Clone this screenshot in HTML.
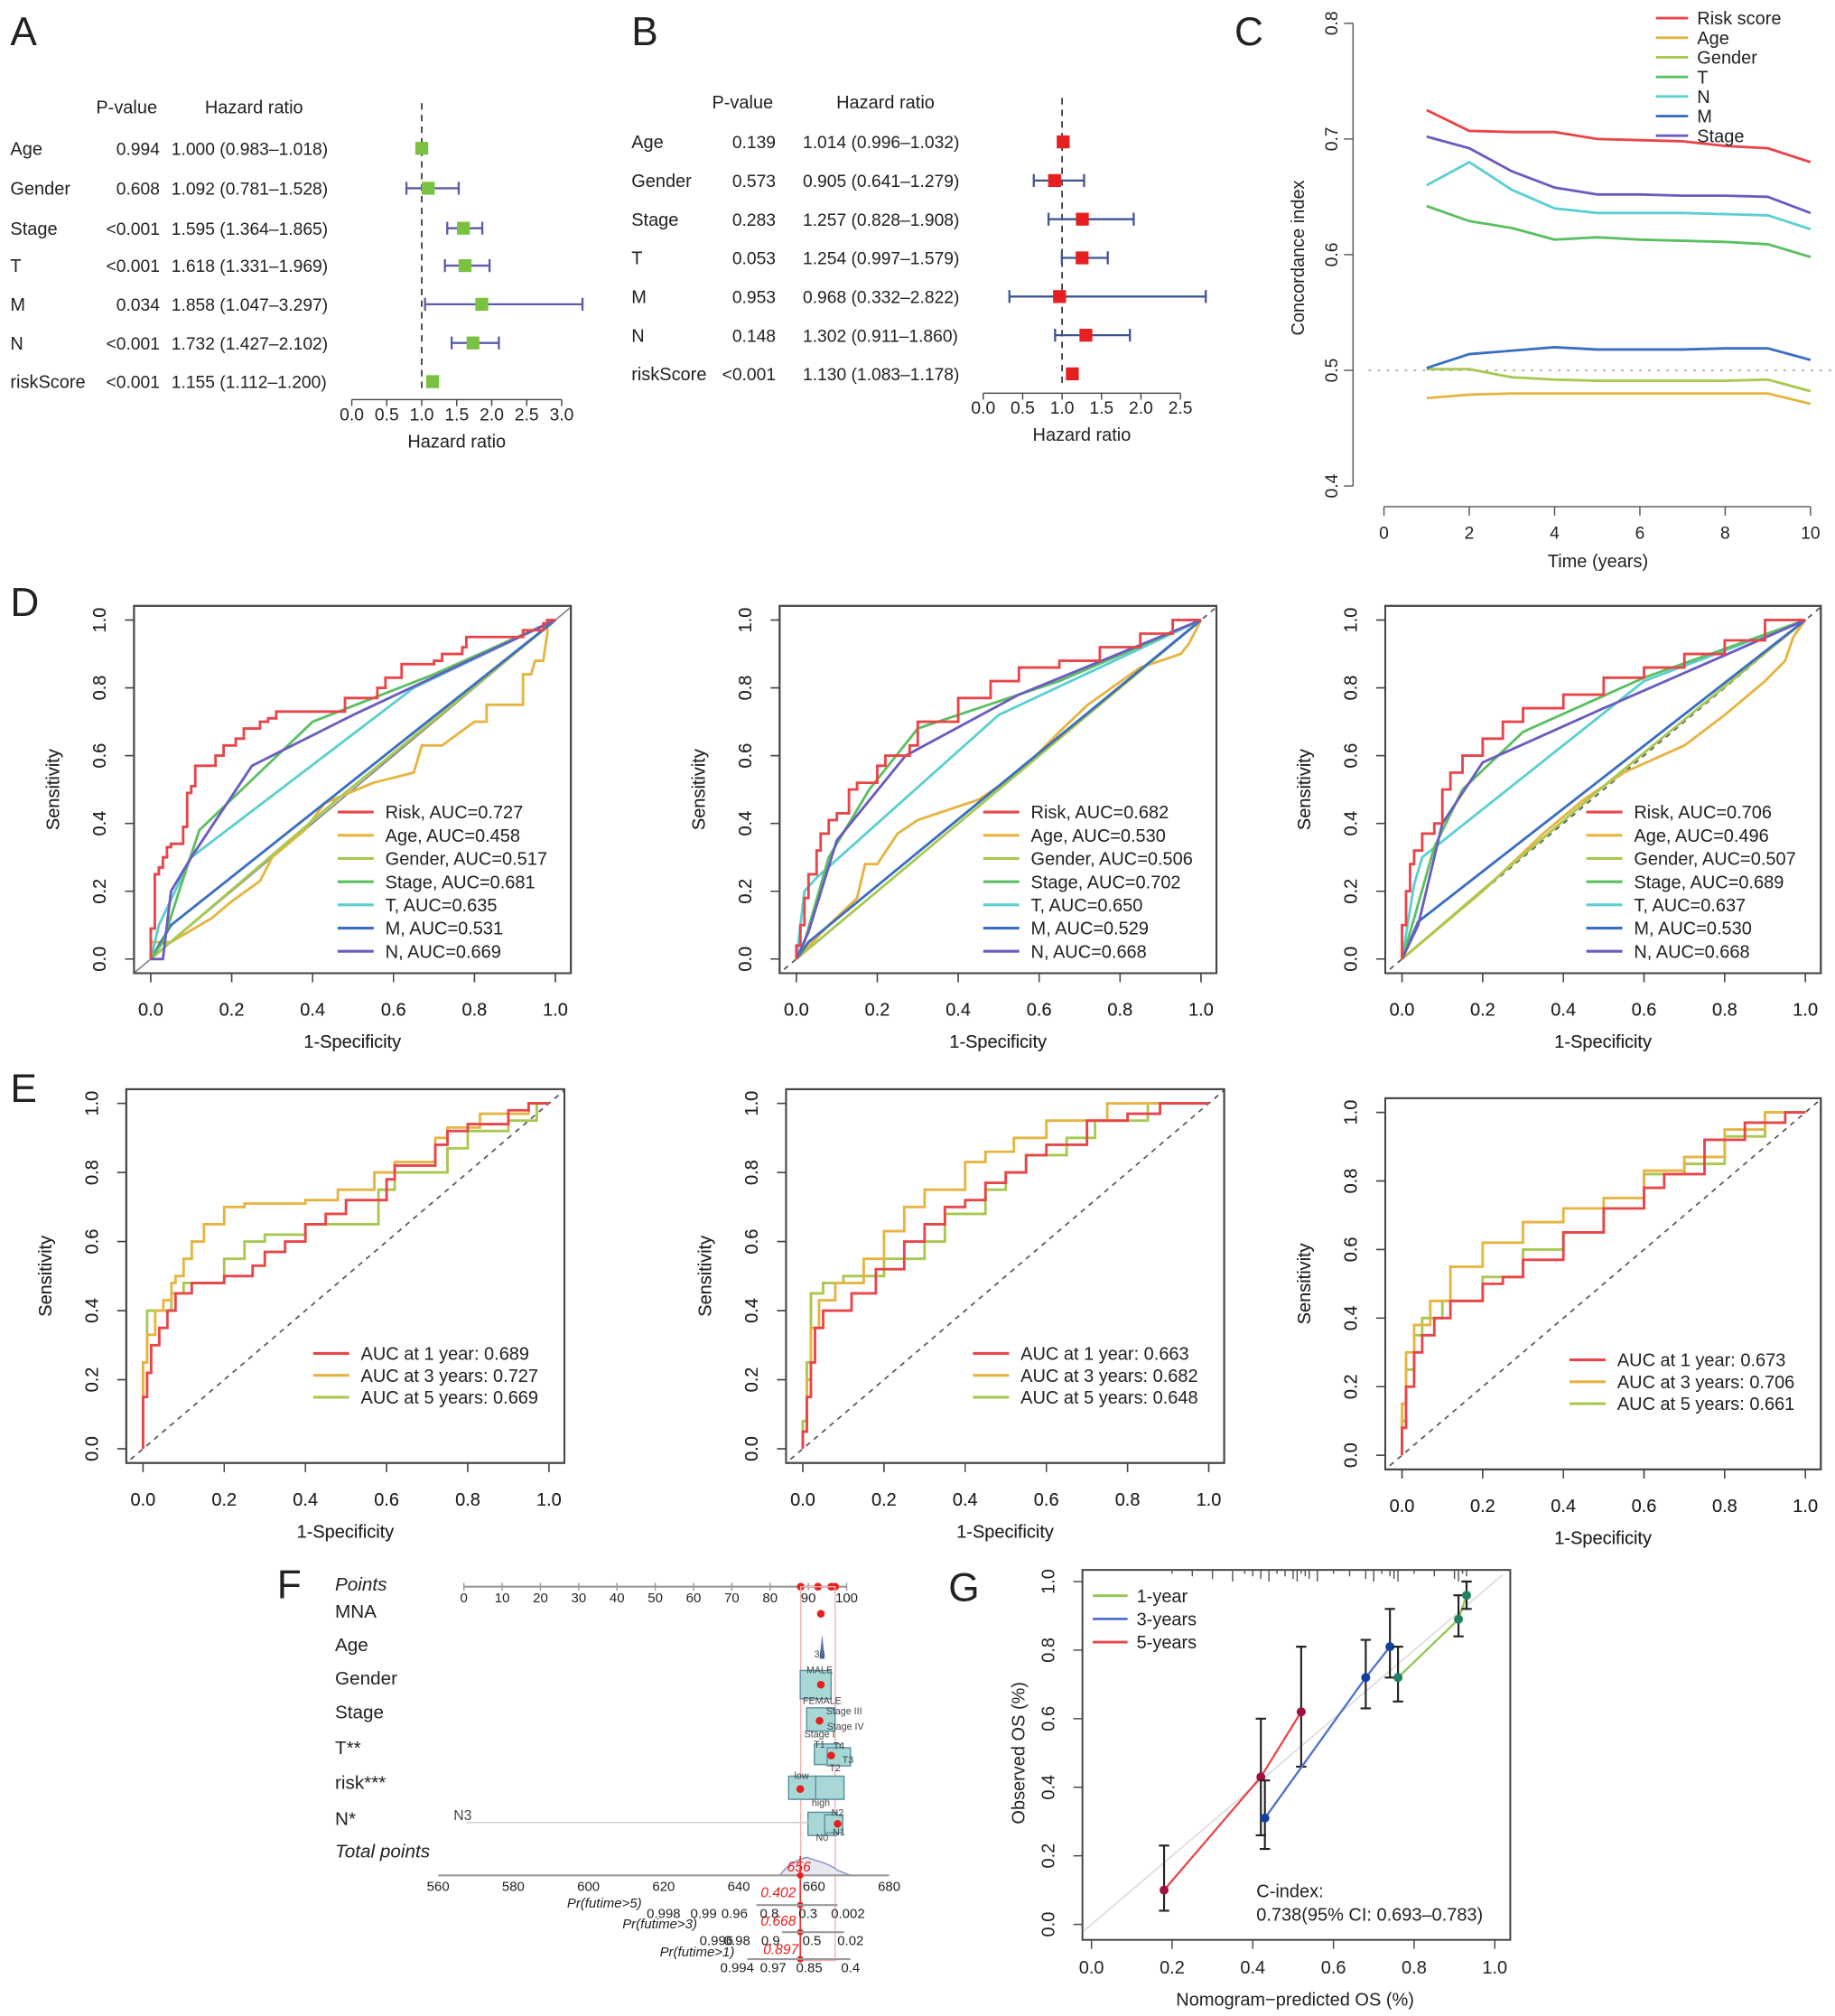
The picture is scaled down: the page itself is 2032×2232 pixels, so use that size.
<!DOCTYPE html>
<html><head><meta charset="utf-8"><style>
html,body{margin:0;padding:0;background:#fff;}
svg{display:block;font-family:"Liberation Sans",Arial,sans-serif;}
</style></head><body>
<svg id="fig" width="2032" height="2232" viewBox="0 0 1424 1564" xmlns="http://www.w3.org/2000/svg"></svg>
<script>
// ---------- Panel A/B forest data ----------
const forestVars = ["Age","Gender","Stage","T","M","N","riskScore"];
const aPvals = ["0.994","0.608","<0.001","<0.001","0.034","<0.001","<0.001"];
const aHR = [1.000,1.092,1.595,1.618,1.858,1.732,1.155];
const aLo = [0.983,0.781,1.364,1.331,1.047,1.427,1.112];
const aHi = [1.018,1.528,1.865,1.969,3.297,2.102,1.200];
const aTicks = [0,0.5,1,1.5,2,2.5,3];
const bPvals = ["0.139","0.573","0.283","0.053","0.953","0.148","<0.001"];
const bHR = [1.014,0.905,1.257,1.254,0.968,1.302,1.130];
const bLo = [0.996,0.641,0.828,0.997,0.332,0.911,1.083];
const bHi = [1.032,1.279,1.908,1.579,2.822,1.860,1.178];
const bTicks = [0,0.5,1,1.5,2,2.5];
// ---------- Panel C ----------
const cYears = [1,2,3,4,5,6,7,8,9,10];
const cNames = ["Risk score","Age","Gender","T","N","M","Stage"];
const cRisk  = [.725,.707,.706,.706,.700,.699,.698,.694,.692,.680];
const cAge   = [.476,.479,.480,.480,.480,.480,.480,.480,.480,.471];
const cGender= [.501,.501,.494,.492,.491,.491,.491,.491,.492,.482];
const cT     = [.642,.629,.623,.613,.615,.613,.612,.611,.609,.598];
const cN     = [.660,.680,.656,.640,.636,.636,.636,.635,.634,.622];
const cM     = [.502,.514,.517,.520,.518,.518,.518,.519,.519,.509];
const cStage = [.702,.692,.672,.658,.652,.652,.651,.651,.650,.636];
const cXTicks = [0,2,4,6,8,10];
const cYTicks = [0.4,0.5,0.6,0.7,0.8];
// ---------- Panel D ROC ----------
const dLabels1 = ["Risk, AUC=0.727","Age, AUC=0.458","Gender, AUC=0.517","Stage, AUC=0.681","T, AUC=0.635","M, AUC=0.531","N, AUC=0.669"];
const dLabels2 = ["Risk, AUC=0.682","Age, AUC=0.530","Gender, AUC=0.506","Stage, AUC=0.702","T, AUC=0.650","M, AUC=0.529","N, AUC=0.668"];
const dLabels3 = ["Risk, AUC=0.706","Age, AUC=0.496","Gender, AUC=0.507","Stage, AUC=0.689","T, AUC=0.637","M, AUC=0.530","N, AUC=0.668"];
const d1Risk=[[0,0],[0.01,0.09],[0.02,0.25],[0.03,0.27],[0.04,0.3],[0.05,0.33],[0.08,0.34],[0.09,0.39],[0.1,0.49],[0.11,0.51],[0.16,0.57],[0.18,0.6],[0.21,0.63],[0.23,0.65],[0.27,0.68],[0.29,0.7],[0.31,0.71],[0.48,0.73],[0.56,0.77],[0.58,0.8],[0.62,0.83],[0.7,0.87],[0.72,0.88],[0.77,0.9],[0.78,0.92],[0.92,0.95],[0.97,0.97],[0.98,0.99],[1,1]];
const d1Age=[[0,0],[0,0.05],[0.05,0.05],[0.15,0.12],[0.2,0.17],[0.27,0.23],[0.3,0.3],[0.38,0.38],[0.43,0.46],[0.55,0.52],[0.65,0.55],[0.67,0.63],[0.72,0.63],[0.8,0.7],[0.83,0.7],[0.83,0.75],[0.92,0.75],[0.92,0.84],[0.94,0.84],[0.95,0.88],[0.97,0.88],[0.98,0.96],[0.98,1],[1,1]];
const d1Gender=[[0,0],[0.47,0.48],[1,1]];
const d1Stage=[[0,0],[0.03,0.05],[0.07,0.2],[0.12,0.38],[0.4,0.7],[0.7,0.84],[1,1]];
const d1T=[[0,0],[0.02,0.1],[0.1,0.3],[0.65,0.8],[1,1]];
const d1M=[[0,0],[0.05,0.1],[1,1]];
const d1N=[[0,0],[0.03,0],[0.05,0.2],[0.1,0.3],[0.25,0.57],[0.5,0.72],[1,1]];
const d2Risk=[[0,0],[0.01,0.04],[0.02,0.1],[0.03,0.18],[0.05,0.25],[0.06,0.32],[0.08,0.37],[0.1,0.41],[0.13,0.43],[0.15,0.5],[0.2,0.52],[0.22,0.57],[0.28,0.6],[0.3,0.63],[0.4,0.7],[0.48,0.77],[0.55,0.82],[0.65,0.86],[0.75,0.88],[0.85,0.92],[0.93,0.96],[1,1]];
const d2Age=[[0,0],[0.08,0.1],[0.15,0.18],[0.17,0.28],[0.2,0.28],[0.25,0.37],[0.3,0.41],[0.4,0.45],[0.45,0.47],[0.55,0.55],[0.65,0.67],[0.72,0.75],[0.85,0.86],[0.95,0.9],[0.97,0.93],[1,1]];
const d2Gender=[[0,0],[0.5,0.5],[1,1]];
const d2Stage=[[0,0],[0.02,0.05],[0.08,0.3],[0.18,0.5],[0.3,0.68],[0.65,0.82],[1,1]];
const d2T=[[0,0],[0.02,0.2],[0.05,0.24],[0.5,0.72],[1,1]];
const d2M=[[0,0],[0.03,0.05],[1,1]];
const d2N=[[0,0],[0.03,0.08],[0.1,0.35],[0.27,0.6],[0.55,0.78],[1,1]];
const d3Risk=[[0,0],[0.01,0.1],[0.02,0.2],[0.03,0.28],[0.05,0.32],[0.08,0.37],[0.1,0.4],[0.12,0.5],[0.15,0.55],[0.2,0.6],[0.25,0.65],[0.3,0.7],[0.4,0.74],[0.5,0.78],[0.6,0.83],[0.7,0.86],[0.8,0.9],[0.9,0.94],[1,1]];
const d3Age=[[0,0],[0.05,0.05],[0.2,0.2],[0.35,0.37],[0.45,0.47],[0.55,0.55],[0.7,0.63],[0.8,0.72],[0.9,0.82],[0.95,0.88],[0.97,0.95],[1,1]];
const d3Gender=[[0,0],[0.5,0.51],[1,1]];
const d3Stage=[[0,0],[0.03,0.12],[0.08,0.33],[0.15,0.5],[0.3,0.67],[0.6,0.83],[1,1]];
const d3T=[[0,0],[0.03,0.22],[0.05,0.3],[0.6,0.82],[1,1]];
const d3M=[[0,0],[0.04,0.11],[1,1]];
const d3N=[[0,0],[0.04,0.1],[0.1,0.4],[0.2,0.58],[0.5,0.74],[1,1]];
// ---------- Panel E ROC ----------
const eLabels1=["AUC at 1 year: 0.689","AUC at 3 years: 0.727","AUC at 5 years: 0.669"];
const eLabels2=["AUC at 1 year: 0.663","AUC at 3 years: 0.682","AUC at 5 years: 0.648"];
const eLabels3=["AUC at 1 year: 0.673","AUC at 3 years: 0.706","AUC at 5 years: 0.661"];
const e1Y1=[[0,0],[0,0.1],[0.01,0.15],[0.02,0.22],[0.04,0.3],[0.06,0.35],[0.08,0.4],[0.12,0.45],[0.2,0.48],[0.27,0.5],[0.3,0.53],[0.35,0.57],[0.4,0.6],[0.45,0.65],[0.5,0.68],[0.6,0.72],[0.62,0.78],[0.72,0.82],[0.75,0.88],[0.8,0.92],[0.9,0.94],[0.95,0.98],[1,1]];
const e1Y3=[[0,0],[0,0.12],[0.01,0.25],[0.03,0.33],[0.05,0.4],[0.07,0.43],[0.08,0.48],[0.1,0.5],[0.12,0.55],[0.15,0.6],[0.2,0.65],[0.25,0.7],[0.4,0.71],[0.48,0.72],[0.57,0.75],[0.62,0.8],[0.72,0.83],[0.75,0.9],[0.83,0.93],[0.95,0.97],[1,1]];
const e1Y5=[[0,0],[0,0.05],[0.01,0.25],[0.02,0.4],[0.07,0.4],[0.1,0.45],[0.2,0.48],[0.25,0.55],[0.3,0.6],[0.4,0.62],[0.45,0.65],[0.58,0.65],[0.62,0.75],[0.75,0.8],[0.8,0.87],[0.9,0.92],[0.97,0.95],[1,1]];
const e2Y1=[[0,0],[0.01,0.05],[0.02,0.15],[0.03,0.25],[0.05,0.35],[0.08,0.4],[0.12,0.4],[0.18,0.45],[0.25,0.52],[0.3,0.6],[0.35,0.65],[0.4,0.7],[0.45,0.72],[0.5,0.77],[0.55,0.8],[0.6,0.85],[0.7,0.88],[0.8,0.95],[0.88,0.97],[1,1]];
const e2Y3=[[0,0],[0.01,0.05],[0.02,0.2],[0.04,0.35],[0.08,0.43],[0.15,0.48],[0.2,0.55],[0.25,0.63],[0.3,0.7],[0.4,0.75],[0.45,0.83],[0.52,0.86],[0.6,0.9],[0.75,0.95],[0.85,1],[1,1]];
const e2Y5=[[0,0],[0.01,0.08],[0.02,0.25],[0.03,0.45],[0.05,0.45],[0.1,0.48],[0.2,0.5],[0.3,0.55],[0.35,0.6],[0.45,0.68],[0.5,0.75],[0.55,0.8],[0.65,0.85],[0.72,0.9],[0.85,0.95],[0.95,1],[1,1]];
const e3Y1=[[0,0],[0.01,0.08],[0.03,0.2],[0.05,0.3],[0.08,0.35],[0.12,0.4],[0.2,0.45],[0.25,0.5],[0.3,0.52],[0.4,0.57],[0.5,0.65],[0.6,0.72],[0.65,0.78],[0.75,0.82],[0.85,0.92],[0.95,0.97],[1,1]];
const e3Y3=[[0,0],[0.01,0.15],[0.03,0.3],[0.07,0.38],[0.12,0.45],[0.2,0.55],[0.3,0.62],[0.4,0.68],[0.5,0.72],[0.6,0.75],[0.7,0.83],[0.8,0.87],[0.9,0.95],[1,1]];
const e3Y5=[[0,0],[0.01,0.1],[0.03,0.25],[0.05,0.35],[0.1,0.4],[0.2,0.45],[0.3,0.52],[0.4,0.6],[0.5,0.65],[0.6,0.72],[0.7,0.82],[0.8,0.85],[0.9,0.93],[1,1]];
const rocTicks=[0,0.2,0.4,0.6,0.8,1.0];
// ---------- Panel G calibration ----------
const gPred5=[0.18,0.42,0.52], gObs5=[0.10,0.43,0.62], gLo5=[0.04,0.26,0.46], gHi5=[0.23,0.60,0.81];
const gPred3=[0.43,0.68,0.74], gObs3=[0.31,0.72,0.81], gLo3=[0.22,0.63,0.72], gHi3=[0.42,0.83,0.92];
const gPred1=[0.76,0.91,0.93], gObs1=[0.72,0.89,0.96], gLo1=[0.65,0.84,0.92], gHi1=[0.81,0.96,1.0];

const NS="http://www.w3.org/2000/svg";
const svg=document.getElementById('fig');
function mk(tag,attrs,parent){const e=document.createElementNS(NS,tag);for(const k in attrs)e.setAttribute(k,attrs[k]);(parent||svg).appendChild(e);return e;}
function txt(x,y,s,size,anchor,parent,extra){const e=mk('text',Object.assign({x:x,y:y,'font-size':size,'text-anchor':anchor||'start',fill:'#222'},extra||{}),parent);e.textContent=s;return e;}
const COL={red:'#e8454a',gold:'#e6b440',ygreen:'#a8c850',green:'#5bbf62',cyan:'#5ccfd0',blue:'#3a6ec0',purple:'#6a5cc0'};

[["A",8,35],["B",490,35],["C",958,35],["D",8,478],["E",8,855],["F",215,1240],["G",736,1242]].forEach(function(l){
  const t=txt(l[1],l[2],l[0],31,'start');
  
  
});

function forest(id,rowY,labX,pX,hrX,hdrY,ax0,axPerUnit,axY,pv,hr,lo,hi,ticks,boxCol,barCol){
  const g=mk('g',{});
  
  
  const sx=v=>ax0+v*axPerUnit;
  let h=txt(pX-2,hdrY,'P-value',14,'end',g);  
  h=txt(hrX+26,hdrY,'Hazard ratio',14,'start',g);  
  const dl=mk('line',{x1:sx(1),x2:sx(1),y1:hdrY-8,y2:axY-6,stroke:'#333','stroke-dasharray':'5,4','stroke-width':1.2},g);
   
  forestVars.forEach(function(v,i){
    const y=rowY[i];
    let t=txt(labX,y+5,v,14,'start',g);  
    t=txt(pX,y+5,pv[i],13.5,'end',g);  
    t=txt(hrX,y+5,hr[i].toFixed(3)+' ('+lo[i].toFixed(3)+'\u2013'+hi[i].toFixed(3)+')',13.5,'start',g);  
    const ln=mk('line',{x1:sx(lo[i]),x2:sx(hi[i]),y1:y,y2:y,stroke:barCol,'stroke-width':1.6},g);
     
    [lo[i],hi[i]].forEach(function(e){const c=mk('line',{x1:sx(e),x2:sx(e),y1:y-5,y2:y+5,stroke:barCol,'stroke-width':1.6},g);
       });
    const r=mk('rect',{x:sx(hr[i])-5,y:y-5,width:10,height:10,fill:boxCol},g);
     
  });
  const ax=mk('line',{x1:sx(ticks[0]),x2:sx(ticks[ticks.length-1]),y1:axY,y2:axY,stroke:'#444','stroke-width':1},g);
   
  ticks.forEach(function(tv){mk('line',{x1:sx(tv),x2:sx(tv),y1:axY,y2:axY+5,stroke:'#444'},g);
    const t=txt(sx(tv),axY+16,tv.toFixed(1),13.5,'middle',g);  });
  const xt=txt((sx(ticks[0])+sx(ticks[ticks.length-1]))/2,axY+37,'Hazard ratio',14,'middle',g);
   
}
forest('a',[115,146,177,206,236,266,296],8,124,133,88,273,54.3,310,aPvals,aHR,aLo,aHi,aTicks,'#7ac142','#5a5aa8');
forest('b',[110,140,170,200,230,260,290],490,602,623,84,763,61.2,305,bPvals,bHR,bLo,bHi,bTicks,'#e62020','#3e5490');

(function(){
  const g=mk('g',{});  
  const sx=v=>1074+v*33.1, sy=v=>377-(v-0.4)*897.5;
  let a=mk('line',{x1:sx(0),x2:sx(10),y1:393,y2:393,stroke:'#555'},g);  
  cXTicks.forEach(function(v){mk('line',{x1:sx(v),x2:sx(v),y1:393,y2:400,stroke:'#555'},g);
    const t=txt(sx(v),418,String(v),13.5,'middle',g);  });
  a=mk('line',{x1:1050,x2:1050,y1:sy(0.4),y2:sy(0.8),stroke:'#555'},g);  
  cYTicks.forEach(function(v){mk('line',{x1:1043,x2:1050,y1:sy(v),y2:sy(v),stroke:'#555'},g);
    const t=txt(0,0,v.toFixed(1),13.5,'middle',g,{transform:'translate(1038,'+sy(v)+') rotate(-90)'});  });
  let t=txt(1240,440,'Time (years)',14,'middle',g);  
  t=txt(0,0,'Concordance index',14,'middle',g,{transform:'translate(1012,200) rotate(-90)'});  
  const ref=mk('line',{x1:1062,x2:1424,y1:sy(0.5),y2:sy(0.5),stroke:'#aaa','stroke-dasharray':'2,5','stroke-width':1.3},g);
   
  const series=[cRisk,cAge,cGender,cT,cN,cM,cStage];
  const cols=[COL.red,COL.gold,COL.ygreen,COL.green,COL.cyan,COL.blue,COL.purple];
  series.forEach(function(s,i){
    const p=mk('polyline',{points:s.map((v,j)=>sx(cYears[j])+','+sy(v)).join(' '),fill:'none',stroke:cols[i],'stroke-width':2},g);
     
    const ly=14+i*15.2;
    const l=mk('line',{x1:1285,x2:1310,y1:ly,y2:ly,stroke:cols[i],'stroke-width':2},g);
     
    const lt=txt(1317,ly+5,cNames[i],14,'start',g);  
  });
})();

function roc(id,L,T,R,B,series,cols,steps,labels,leg,dashed){
  const g=mk('g',{});  
  const sx=v=>L+13+v*(R-L-25), sy=v=>B-11-v*(B-T-22);
  const box=mk('rect',{x:L,y:T,width:R-L,height:B-T,fill:'none',stroke:'#444','stroke-width':1.4},g);
   
  rocTicks.forEach(function(v){
    mk('line',{x1:sx(v),x2:sx(v),y1:B,y2:B+7,stroke:'#444'},g);
    let t=txt(sx(v),B+33,v.toFixed(1),14,'middle',g);  
    mk('line',{x1:L-7,x2:L,y1:sy(v),y2:sy(v),stroke:'#444'},g);
    t=txt(0,0,v.toFixed(1),14,'middle',g,{transform:'translate('+(L-22)+','+sy(v)+') rotate(-90)'});  
  });
  let t=txt((L+R)/2,B+58,'1-Specificity',14,'middle',g);  
  t=txt(0,0,'Sensitivity',14,'middle',g,{transform:'translate('+(L-58)+','+((T+B)/2)+') rotate(-90)'});  
  if(series.length){
    const cp=mk('clipPath',{id:'clip'+id},g); mk('rect',{x:L,y:T,width:R-L,height:B-T},cp);
    const dg=mk('line',{x1:sx(-0.05),y1:sy(-0.05),x2:sx(1.05),y2:sy(1.05),stroke:dashed?'#555':'#888','stroke-dasharray':dashed?'4,4':'none','stroke-width':1.2,'clip-path':'url(#clip'+id+')'},g);
     
  }
  series.forEach(function(s,i){
    let d='M'+sx(s[0][0])+','+sy(s[0][1]);
    for(let k=1;k<s.length;k++){
      if(steps[i]) d+=' L'+sx(s[k-1][0])+','+sy(s[k][1]);
      d+=' L'+sx(s[k][0])+','+sy(s[k][1]);
    }
    const p=mk('path',{d:d,fill:'none',stroke:cols[i],'stroke-width':2},g);
     
  });
  labels.forEach(function(s,i){
    const y=leg[1]+i*leg[2];
    const l=mk('line',{x1:leg[0],x2:leg[0]+28,y1:y,y2:y,stroke:cols[i],'stroke-width':2.2},g);
     
    const lt=txt(leg[0]+37,y+5,s,14,'start',g);  
  });
}
const dCols=[COL.red,COL.gold,COL.ygreen,COL.green,COL.cyan,COL.blue,COL.purple];
const dSeriesCols=[COL.gold,COL.ygreen,COL.blue,COL.cyan,COL.green,COL.purple,COL.red];
const dStepFlags=[false,false,false,false,false,false,true];
roc('d1',104,470,443,755,[d1Age,d1Gender,d1M,d1T,d1Stage,d1N,d1Risk],dSeriesCols,dStepFlags,dLabels1.map(()=>null).filter(x=>x),[0,0,0],false);
roc('d1l',104,470,443,755,[],dCols,[],dLabels1,[262,630,18],false);
roc('d2',605,470,944,755,[d2Age,d2Gender,d2M,d2T,d2Stage,d2N,d2Risk],dSeriesCols,dStepFlags,[],[0,0,0],true);
roc('d2l',605,470,944,755,[],dCols,[],dLabels2,[763,630,18],false);
roc('d3',1075,470,1413,755,[d3Age,d3Gender,d3M,d3T,d3Stage,d3N,d3Risk],dSeriesCols,dStepFlags,[],[0,0,0],true);
roc('d3l',1075,470,1413,755,[],dCols,[],dLabels3,[1231,630,18],false);
const eCols=[COL.red,COL.gold,COL.ygreen];
roc('e1',98,845,438,1135,[e1Y5,e1Y3,e1Y1],[COL.ygreen,COL.gold,COL.red],[true,true,true],[],[0,0,0],true);
roc('e1l',98,845,438,1135,[],eCols,[],eLabels1,[243,1050,17],false);
roc('e2',610,845,950,1135,[e2Y5,e2Y3,e2Y1],[COL.ygreen,COL.gold,COL.red],[true,true,true],[],[0,0,0],true);
roc('e2l',610,845,950,1135,[],eCols,[],eLabels2,[755,1050,17],false);
roc('e3',1075,852,1413,1140,[e3Y5,e3Y3,e3Y1],[COL.ygreen,COL.gold,COL.red],[true,true,true],[],[0,0,0],true);
roc('e3l',1075,852,1413,1140,[],eCols,[],eLabels3,[1218,1055,17],false);

(function(){
  const g=mk('g',{});  
  const pts=v=>360+v*2.97, tot=v=>340+(v-560)*350/120;
  const rows=[["Points",1231,true],["MNA",1252,false],["Age",1278,false],["Gender",1304,false],["Stage",1330,false],["T**",1358,false],["risk***",1385,false],["N*",1413,false],["Total points",1438,true]];
  rows.forEach(function(r){const t=txt(260,r[1]+3,r[0],14.5,'start',g,r[2]?{'font-style':'italic'}:{});  });
  let a=mk('line',{x1:pts(0),x2:pts(100),y1:1231,y2:1231,stroke:'#999','stroke-width':1.5},g);  
  for(let v=0;v<=100;v+=10){mk('line',{x1:pts(v),x2:pts(v),y1:1228,y2:1234,stroke:'#999'},g);
    const t=txt(pts(v),1243,String(v),10.5,'middle',g);  }
  [88,92.5,96,97].forEach(function(v){const c=mk('circle',{cx:pts(v),cy:1231,r:3,fill:'#e62020'},g);});
  mk('rect',{x:pts(88),y:1231,width:pts(97)-pts(88),height:290,fill:'none',stroke:'#f4b0b0','stroke-width':1},g);
  const boxes=[[621,1296,24,22],[626,1325,22,18],[632,1353,20,16],[642,1356,18,14],[612,1378,22,18],[633,1378,22,18],[627,1406,22,18],[640,1408,14,14]];
  boxes.forEach(function(b){const r=mk('rect',{x:b[0],y:b[1],width:b[2],height:b[3],fill:'#a8d8d6',stroke:'#5a8fa0','stroke-width':1},g);});
  [[637,1252],[637,1307],[636,1335],[645,1362],[621,1388],[650,1415]].forEach(function(p){const c=mk('circle',{cx:p[0],cy:p[1],r:3,fill:'#e62020'},g);});
  mk('path',{d:'M636,1287 L638,1268 L640,1287 Z',fill:'#5070c0'},g);
  const nl=mk('line',{x1:362,x2:628,y1:1414,y2:1414,stroke:'#ccc'},g);  
  [["30",636,1286],["MALE",636,1298],["FEMALE",638,1322],["Stage III",655,1330],["Stage IV",656,1342],["Stage I",636,1348],["T1",636,1356],["T4",651,1357],["T2",648,1374],["T3",658,1368],["low",622,1380],["high",637,1401],["N2",650,1409],["N1",651,1424],["N0",638,1428],["N3",359,1412]].forEach(function(l){
    const t=txt(l[1],l[2],l[0],l[0]==="N3"?11:7.5,'middle',g,{fill:'#444'});  });
  mk('path',{d:'M605,1455 C612,1446 618,1443 626,1441 C634,1444 642,1445 650,1451 L660,1455 Z',fill:'#e8e8f0',stroke:'#8890c0','stroke-width':1},g);
  a=mk('line',{x1:tot(560),x2:tot(680),y1:1455,y2:1455,stroke:'#999','stroke-width':1.5},g);  
  for(let v=560;v<=680;v+=20){const t=txt(tot(v),1467,String(v),10.5,'middle',g);  }
  const rl=mk('line',{x1:621,x2:621,y1:1440,y2:1520,stroke:'#e62020','stroke-width':1},g);  
  [[1455],[1478],[1499],[1520]].forEach(function(p){mk('circle',{cx:621,cy:p[0],r:2.5,fill:'#e62020'},g);});
  [["656",620,1452],["0.402",604,1472],["0.668",604,1494],["0.897",606,1516]].forEach(function(l){const t=txt(l[1],l[2],l[0],11,'middle',g,{fill:'#e62020','font-style':'italic'});});
  const pr=[["Pr(futime>5)",498,1480,[587,650],1478,[["0.998",515],["0.99",546],["0.96",570],["0.8",597],["0.3",627],["0.002",658]],1488],
            ["Pr(futime>3)",541,1496,[607,655],1499,[["0.996",556],["0.98",572],["0.9",598],["0.5",630],["0.02",660]],1509],
            ["Pr(futime>1)",570,1518,[580,660],1520,[["0.994",572],["0.97",600],["0.85",628],["0.4",660]],1530]];
  pr.forEach(function(r){
    const t=txt(r[1],r[2],r[0],10.5,'end',g,{'font-style':'italic'});  
    const l=mk('line',{x1:r[3][0],x2:r[3][1],y1:r[4],y2:r[4],stroke:'#999','stroke-width':1.5},g);  
    r[5].forEach(function(k){const tt=txt(k[1],r[6],k[0],10.5,'middle',g);  });
  });
})();

(function(){
  const g=mk('g',{});  
  const L=840,T=1218,R=1172,B=1505;
  const sx=v=>847+v*313, sy=v=>1493-v*266;
  const box=mk('rect',{x:L,y:T,width:R-L,height:B-T,fill:'none',stroke:'#444','stroke-width':1.4},g);
   
  rocTicks.forEach(function(v){
    mk('line',{x1:sx(v),x2:sx(v),y1:B,y2:B+7,stroke:'#444'},g);
    let t=txt(sx(v),B+26,v.toFixed(1),14,'middle',g);  
    mk('line',{x1:L-7,x2:L,y1:sy(v),y2:sy(v),stroke:'#444'},g);
    t=txt(0,0,v.toFixed(1),14,'middle',g,{transform:'translate('+(L-22)+','+sy(v)+') rotate(-90)'});  
  });
  let t=txt(1005,1556,'Nomogram\u2212predicted OS (%)',14,'middle',g);  
  t=txt(0,0,'Observed OS (%)',14,'middle',g,{transform:'translate(795,1360) rotate(-90)'});  
  const dg=mk('line',{x1:sx(-0.02),y1:sy(-0.02),x2:sx(1.02),y2:sy(1.02),stroke:'#ddd','stroke-width':1.2},g);
   
  let rug='';
  [0.2,0.25,0.3,0.35,0.38,0.4,0.42,0.44,0.46,0.48,0.5,0.51,0.52,0.53,0.54,0.56,0.6,0.64,0.68,0.7,0.72,0.74,0.75,0.76,0.8,0.85,0.9,0.91,0.92,0.93].forEach(function(v,i){rug+='M'+sx(v)+','+T+' v'+(3+(i%4)*2)+' ';});
  const rg=mk('path',{d:rug,stroke:'#555','stroke-width':1},g);  
  const sets=[[gPred5,gObs5,gLo5,gHi5,COL.red,'#a01040'],[gPred3,gObs3,gLo3,gHi3,'#5070c8','#1040a0'],[gPred1,gObs1,gLo1,gHi1,'#90c850','#208060']];
  sets.forEach(function(s){
    const p=mk('polyline',{points:s[0].map((v,j)=>sx(v)+','+sy(s[1][j])).join(' '),fill:'none',stroke:s[4],'stroke-width':1.6},g);
     
    s[0].forEach(function(v,j){
      const e=mk('path',{d:'M'+sx(v)+','+sy(s[2][j])+' V'+sy(s[3][j])+' M'+(sx(v)-4)+','+sy(s[2][j])+' h8 M'+(sx(v)-4)+','+sy(s[3][j])+' h8',stroke:'#222','stroke-width':1.5,fill:'none'},g);
       
      const c=mk('circle',{cx:sx(v),cy:sy(s[1][j]),r:3.5,fill:s[5]},g);
       
    });
  });
  [["1-year",'#90c850'],["3-years",'#5070c8'],["5-years",COL.red]].forEach(function(l,i){
    const y=1238+i*18;
    const ln=mk('line',{x1:848,x2:875,y1:y,y2:y,stroke:l[1],'stroke-width':2},g);  
    const lt=txt(882,y+5,l[0],14,'start',g);  
  });
  t=txt(975,1472,'C-index:',14,'start',g);  
  t=txt(975,1490,'0.738(95% CI: 0.693\u20130.783)',14,'start',g);  
})();
</script>
</body></html>
